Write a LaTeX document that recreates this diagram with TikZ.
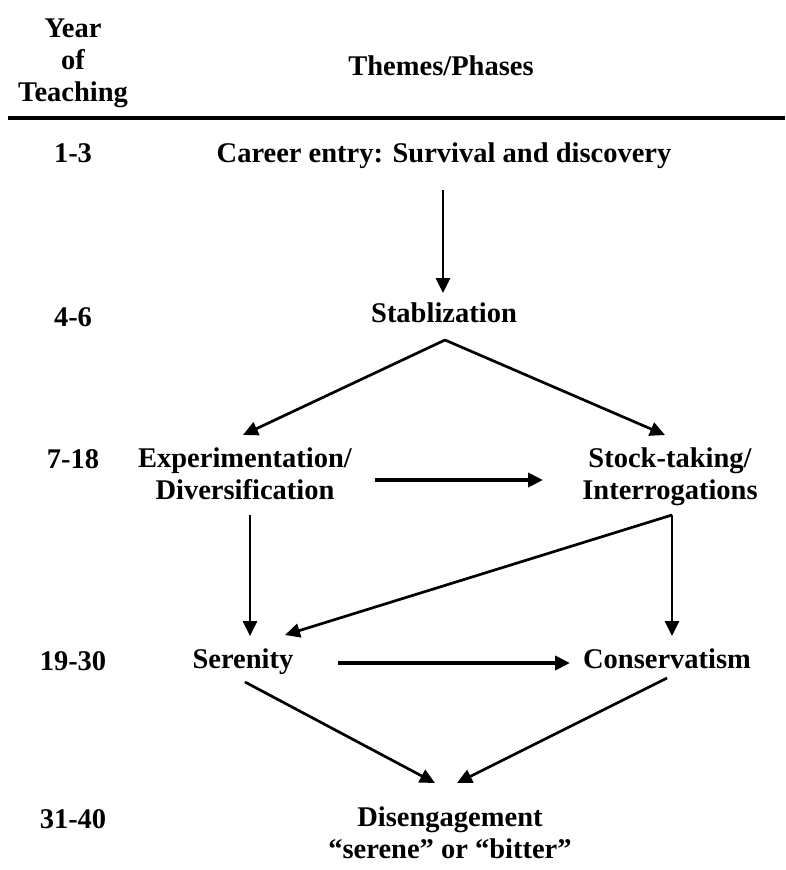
\documentclass[tikz,border=0pt]{standalone}
\usepackage{fontspec}
\setmainfont{Liberation Serif}
\usepackage{tikz}
\usetikzlibrary{arrows.meta}
\definecolor{inkblack}{RGB}{0,0,0}

\begin{document}
\begin{tikzpicture}[x=1pt,y=-1pt,
    lbl/.style={font=\fontsize{28.5}{32}\selectfont\bfseries, inner sep=0pt, anchor=base, align=center, text=inkblack},
    flow/.style={inkblack, line width=2.7pt, -{Triangle[length=15pt,width=14pt]}},
    flowbold/.style={flow, line width=4pt}]
    \useasboundingbox (0,0) rectangle (785,870);

    % Header (multi-line nodes sit on their last baseline)
    \node[lbl] (yearhead) at (73,101) {Year\\of\\Teaching};
    \node[lbl] (themehead) at (441,75) {Themes/Phases};
    \draw[inkblack, line width=3.6pt] (8,118) -- (785,118);

    % Year of teaching column
    \foreach \yr/\ypos [count=\i] in {1-3/162, 4-6/326, 7-18/468, 19-30/670, 31-40/828} {
        \node[lbl] (year\i) at (73,\ypos) {\yr};
    }

    % Phases
    \node[lbl] (career) at (444,162) {Career entry: Survival and discovery};
    \node[lbl] (stab) at (444,322) {Stablization};
    \node[lbl] (exper) at (245,499) {Experimentation/\\Diversification};
    \node[lbl] (stock) at (670,499) {Stock-taking/\\Interrogations};
    \node[lbl] (seren) at (243,668) {Serenity};
    \node[lbl] (conserv) at (667,668) {Conservatism};
    \node[lbl] (diseng) at (450,858) {Disengagement\\``serene'' or ``bitter''};

    % Arrow ends
    \coordinate (careerout) at (443,190);
    \coordinate (stabin) at (443,293);
    \coordinate (split) at (445,340);
    \coordinate (experin) at (243,435);
    \coordinate (stockin) at (665,435);
    \coordinate (experright) at (375,480);
    \coordinate (stockleft) at (543,480);
    \coordinate (experout) at (250,515);
    \coordinate (stockout) at (672,515);
    \coordinate (serentop) at (250,636);
    \coordinate (serencorner) at (285,635);
    \coordinate (conservtop) at (672,636);
    \coordinate (serenright) at (338,663);
    \coordinate (conservleft) at (570,663);
    \coordinate (serenout) at (245,682);
    \coordinate (conservout) at (667,678);
    \coordinate (disengl) at (435,783);
    \coordinate (disengr) at (457,783);

    % Transitions
    \draw[flow] (careerout) -- (stabin);
    \draw[flow] (split) -- (experin);
    \draw[flow] (split) -- (stockin);
    \draw[flowbold] (experright) -- (stockleft);
    \draw[flow] (experout) -- (serentop);
    \draw[flow] (stockout) -- (conservtop);
    \draw[flow] (stockout) -- (serencorner);
    \draw[flowbold] (serenright) -- (conservleft);
    \draw[flow] (serenout) -- (disengl);
    \draw[flow] (conservout) -- (disengr);
\end{tikzpicture}
\end{document}
